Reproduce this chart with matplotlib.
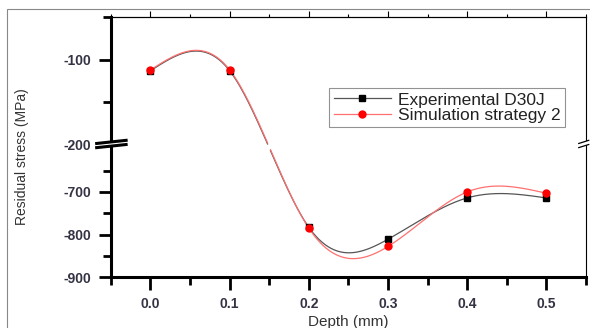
import numpy as np
import matplotlib
matplotlib.use('Agg')
import matplotlib.pyplot as plt
from matplotlib.ticker import FixedLocator
from matplotlib.patches import Rectangle, Polygon

plt.rcParams['font.family'] = ['Liberation Sans', 'DejaVu Sans']

# data
depth = [0.0, 0.1, 0.2, 0.3, 0.4, 0.5]
exp_d30j = [-113, -113, -783, -811, -714, -714]
sim_strategy2 = [-112, -112, -785, -828, -700, -703]

y_major = [-900, -800, -700, -200, -100]
y_minor = [-850, -750, -650, -150, -50]
x_major = [0.0, 0.1, 0.2, 0.3, 0.4, 0.5]
x_minor = [-0.05, 0.05, 0.15, 0.25, 0.35, 0.45, 0.55]


# broken y axis: -900..-600 and -200..-50 with a tiny gap between
def fwd(y):
    y = np.asarray(y, float)
    return np.where(y <= -600, (y + 900) * 0.425,
                    np.where(y < -200, 127.5 + (y + 600) * (4.5 / 400),
                             132 + (y + 200) * 0.85))


def inv(u):
    u = np.asarray(u, float)
    return np.where(u <= 127.5, u / 0.425 - 900,
                    np.where(u < 132, (u - 127.5) * (400 / 4.5) - 600,
                             (u - 132) / 0.85 - 200))


def smooth(x, y, n=400):
    # natural cubic spline, computed in the broken-axis space like Origin does
    x = np.asarray(x, float)
    y = fwd(y)
    h = np.diff(x)
    m = len(x)
    A = np.zeros((m, m))
    b = np.zeros(m)
    A[0, 0] = A[-1, -1] = 1
    for i in range(1, m - 1):
        A[i, i - 1] = h[i - 1]
        A[i, i] = 2 * (h[i - 1] + h[i])
        A[i, i + 1] = h[i]
        b[i] = 6 * ((y[i + 1] - y[i]) / h[i] - (y[i] - y[i - 1]) / h[i - 1])
    M = np.linalg.solve(A, b)
    xs = np.linspace(x[0], x[-1], n)
    k = np.clip(np.searchsorted(x, xs) - 1, 0, m - 2)
    hk = h[k]
    a = (x[k + 1] - xs) / hk
    c = (xs - x[k]) / hk
    us = a * y[k] + c * y[k + 1] + ((a ** 3 - a) * M[k] + (c ** 3 - c) * M[k + 1]) * hk ** 2 / 6
    ys = inv(us)
    ys[(ys > -600) & (ys < -200)] = np.nan
    return xs, ys


fig = plt.figure(figsize=(5.9, 3.28), dpi=100)
ax = fig.add_axes([0.188, 0.155, 0.805, 0.793])
ax.set_yscale('function', functions=(fwd, inv))

# outer frame of the picture
fig.patches.append(Rectangle((0.012, -0.1), 1.2, 1.0726, transform=fig.transFigure,
                             fill=False, edgecolor='#888888', lw=0.8))

xs, ys = smooth(depth, exp_d30j)
ax.plot(xs, ys, color='#555555', lw=0.9, zorder=2)
xs, ys = smooth(depth, sim_strategy2)
ax.plot(xs, ys, color='#ff7070', lw=0.9, zorder=2)
ax.plot(depth, exp_d30j, 's', color='black', ms=5, zorder=3)
ax.plot(depth, sim_strategy2, 'o', color='red', ms=5, zorder=4)

# legend handles
h1, = ax.plot([], [], '-s', color='#555555', mfc='black', mec='black', ms=5, lw=0.9,
              label='Experimental D30J')
h2, = ax.plot([], [], '-o', color='#ff7070', mfc='red', mec='red', ms=5, lw=0.9,
              label='Simulation strategy 2')
leg = ax.legend(handles=[h1, h2], loc='upper right', bbox_to_anchor=(0.956, 0.727),
                fontsize=12.5, frameon=True, fancybox=False, edgecolor='#777777',
                handlelength=3.3, handletextpad=0.4, labelspacing=0.0, borderpad=0.25,
                borderaxespad=0)
leg.get_frame().set_linewidth(0.8)
for t in leg.get_texts():
    t.set_color('#222222')

ax.set_xlim(-0.05, 0.55)
ax.set_ylim(-900, -50)

ax.xaxis.set_major_locator(FixedLocator(x_major))
ax.xaxis.set_minor_locator(FixedLocator(x_minor))
ax.yaxis.set_major_locator(FixedLocator(y_major))
ax.yaxis.set_minor_locator(FixedLocator(y_minor))
ax.set_xticklabels(['%.1f' % v for v in x_major])
ax.set_yticklabels([str(v) for v in y_major])

ax.tick_params(which='major', direction='out', length=9, width=2, color='black',
               labelsize=10, labelcolor='#333344', pad=5)
ax.tick_params(which='minor', direction='out', length=6, width=2, color='black')
for lab in ax.get_xticklabels() + ax.get_yticklabels():
    lab.set_fontweight('bold')

for side in ['left', 'bottom']:
    ax.spines[side].set_linewidth(2.2)
for side in ['top', 'right']:
    ax.spines[side].set_linewidth(0.8)

# thin ticks on the top edge
sec = ax.secondary_xaxis('top')
sec.xaxis.set_major_locator(FixedLocator(x_major))
sec.xaxis.set_minor_locator(FixedLocator(x_minor))
sec.tick_params(which='major', direction='out', length=4, width=0.8, labeltop=False)
sec.tick_params(which='minor', direction='out', length=2.5, width=0.8)
sec.spines['top'].set_linewidth(0.8)

ax.set_ylabel('Residual stress (MPa)', fontsize=10, color='#333333')
ax.yaxis.set_label_coords(-0.172, 0.465)
ax.set_xlabel('Depth (mm)', fontsize=11, color='#333333')
ax.xaxis.set_label_coords(0.5, -0.146)

# break marks on left and right axes
for x0, x1, lw in [(-0.03, 0.032, 2.2), (0.985, 1.006, 0.9)]:
    ya, yb = 0.498, 0.514
    d = 0.012
    gap = Polygon([[x0, ya], [x1, ya + d], [x1, yb + d], [x0, yb]], closed=True,
                  transform=ax.transAxes, facecolor='white', edgecolor='none',
                  clip_on=False, zorder=5)
    ax.add_patch(gap)
    ax.plot([x0, x1], [ya, ya + d], color='black', lw=lw, transform=ax.transAxes,
            clip_on=False, zorder=6)
    ax.plot([x0, x1], [yb, yb + d], color='black', lw=lw, transform=ax.transAxes,
            clip_on=False, zorder=6)

fig.savefig('out.png', dpi=100)
